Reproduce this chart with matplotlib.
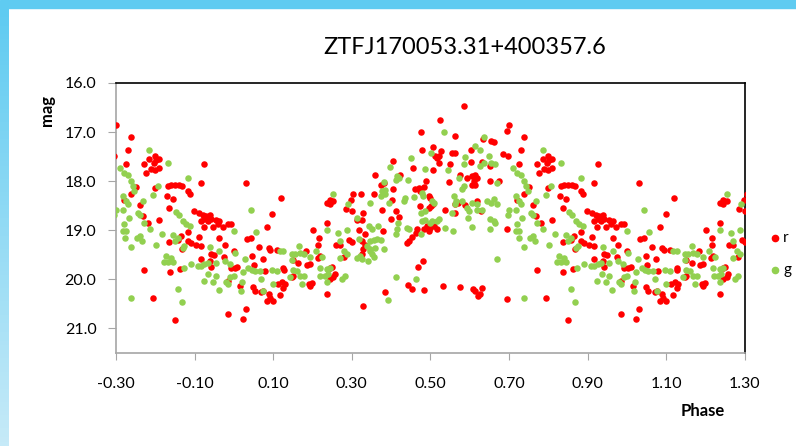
import matplotlib
matplotlib.use('Agg')
import matplotlib.pyplot as plt
import numpy as np
from matplotlib.patches import Rectangle
from matplotlib.lines import Line2D
from matplotlib.colors import LinearSegmentedColormap

plt.rcParams['font.family'] = ['Lato', 'DejaVu Sans']

title = 'ZTFJ170053.31+400357.6'
xticks = [-0.30, -0.10, 0.10, 0.30, 0.50, 0.70, 0.90, 1.10, 1.30]
yticks = [16.0, 17.0, 18.0, 19.0, 20.0, 21.0]
bands = ['r', 'g']
band_colors = ['#FF0000', '#92D050']

# (phase, mag) for one cycle, phase 0..1
r_obs = [
    (0.030, 18.03), (0.120, 18.35), (0.098, 18.66), (0.085, 18.93),
    (0.032, 19.18), (0.043, 19.16), (0.064, 19.34), (0.090, 19.37), (0.093, 19.40), (0.109, 19.40),
    (0.047, 19.53), (0.073, 19.59), (0.002, 19.76), (0.009, 19.74), (0.051, 19.70), (0.079, 19.83),
    (0.126, 19.76), (0.128, 19.80), (0.149, 19.60), (0.164, 19.66), (0.185, 19.70), (0.194, 19.69),
    (0.183, 19.42), (0.200, 19.00), (0.217, 19.16), (0.215, 19.29), (0.213, 19.57), (0.219, 19.52),
    (0.236, 18.85), (0.260, 19.29), (0.244, 19.76), (0.250, 19.75), (0.257, 19.89), (0.236, 18.44),
    (0.244, 18.47), (0.253, 18.41), (0.245, 18.39), (0.284, 18.56), (0.304, 18.27), (0.322, 18.27),
    (0.298, 18.39), (0.300, 18.61), (0.328, 18.64), (0.325, 18.80), (0.312, 18.80), (0.317, 19.00),
    (0.293, 19.20), (0.300, 19.23), (0.270, 19.29), (0.281, 19.54), (0.329, 19.39), (0.015, 20.13),
    (0.049, 20.16), (0.054, 20.23), (0.070, 20.26), (0.075, 20.23), (0.088, 20.30), (0.092, 20.38),
    (0.100, 20.44), (0.085, 20.44), (0.117, 20.32), (0.113, 20.10), (0.121, 20.06), (0.130, 20.10),
    (0.126, 20.17), (0.147, 19.96), (0.151, 19.93), (0.190, 20.10), (0.198, 20.08), (0.194, 20.13),
    (0.236, 20.30), (0.244, 20.00), (0.253, 19.96), (0.030, 20.60), (0.022, 20.80), (0.328, 20.54),
    (0.585, 16.47), (0.525, 16.75), (0.477, 16.99), (0.562, 17.07), (0.479, 17.36), (0.507, 17.31),
    (0.527, 17.38), (0.511, 17.48), (0.521, 17.49), (0.517, 17.53), (0.521, 17.63), (0.555, 17.43),
    (0.562, 17.43), (0.549, 17.64), (0.602, 17.36), (0.633, 17.14), (0.654, 17.19), (0.604, 17.60),
    (0.631, 17.60), (0.652, 17.70), (0.404, 17.58), (0.455, 17.74), (0.507, 17.78), (0.360, 17.87),
    (0.423, 17.87), (0.576, 17.88), (0.548, 18.01), (0.593, 17.93), (0.606, 17.90), (0.614, 17.87),
    (0.618, 17.93), (0.610, 18.00), (0.614, 18.08), (0.606, 18.07), (0.652, 18.00), (0.373, 18.07),
    (0.381, 18.04), (0.405, 18.16), (0.356, 18.27), (0.402, 18.39), (0.460, 18.15), (0.470, 18.14),
    (0.483, 18.12), (0.474, 18.20), (0.489, 17.99), (0.496, 18.30), (0.500, 18.34), (0.502, 18.50),
    (0.506, 18.47), (0.496, 18.54), (0.474, 18.50), (0.570, 18.44), (0.563, 18.46), (0.589, 18.49),
    (0.563, 18.64), (0.538, 18.59), (0.619, 18.40), (0.629, 18.60), (0.377, 18.59), (0.413, 18.61),
    (0.400, 18.78), (0.420, 18.73), (0.333, 19.07), (0.380, 19.02), (0.491, 18.91), (0.500, 18.95),
    (0.508, 18.91), (0.517, 18.98), (0.496, 19.01), (0.483, 18.98), (0.466, 18.98), (0.462, 19.05),
    (0.453, 19.14), (0.445, 19.22), (0.441, 19.25), (0.326, 19.22), (0.334, 19.29), (0.326, 19.49),
    (0.480, 19.62), (0.468, 19.75), (0.442, 20.12), (0.452, 20.20), (0.483, 20.22), (0.383, 20.25),
    (0.531, 20.13), (0.576, 20.15), (0.608, 20.20), (0.614, 20.23), (0.630, 20.17), (0.622, 20.33),
    (0.627, 20.30),
    (0.662, 17.21), (0.700, 16.85), (0.694, 16.97), (0.738, 17.11), (0.685, 17.45), (0.696, 17.49),
    (0.730, 17.37), (0.726, 17.65), (0.675, 17.99), (0.772, 17.66), (0.785, 17.54), (0.798, 17.49),
    (0.802, 17.56), (0.810, 17.54), (0.796, 17.63), (0.788, 17.76), (0.776, 17.83), (0.810, 17.73),
    (0.798, 17.78), (0.925, 17.66), (0.916, 18.03), (0.751, 18.12), (0.737, 18.27), (0.798, 18.13),
    (0.832, 18.10), (0.840, 18.08), (0.849, 18.07), (0.859, 18.08), (0.867, 18.10), (0.883, 18.20),
    (0.887, 18.27), (0.829, 18.30), (0.844, 18.37), (0.721, 18.39), (0.762, 18.49), (0.836, 18.55),
    (0.899, 18.61), (0.912, 18.64), (0.921, 18.68), (0.929, 18.71), (0.938, 18.69), (0.925, 18.78),
    (0.933, 18.81), (0.916, 18.81), (0.942, 18.78), (0.955, 18.80), (0.963, 18.81), (0.959, 18.88),
    (0.984, 18.88), (0.993, 18.87), (0.923, 18.93), (0.946, 18.93), (0.972, 18.93), (0.768, 18.71),
    (0.781, 18.85), (0.810, 18.80), (0.694, 18.97), (0.884, 19.03), (0.866, 19.12), (0.857, 19.20),
    (0.883, 19.22), (0.891, 19.25), (0.836, 19.24), (0.912, 19.14), (0.904, 19.29), (0.916, 19.32),
    (0.963, 19.15), (0.977, 19.30), (0.868, 19.39), (0.942, 19.49), (0.950, 19.50), (0.940, 19.62),
    (0.974, 19.54), (0.916, 19.59), (1.000, 19.42), (0.942, 19.74), (0.993, 19.76), (0.863, 19.78),
    (0.838, 19.84), (0.770, 19.81), (0.984, 20.03), (0.694, 20.39), (0.793, 20.37), (0.850, 20.83),
    (0.984, 20.71),
]

g_obs = [
    (0.043, 18.59), (0.055, 19.04), (0.003, 19.46), (0.028, 19.59), (0.037, 19.76), (0.045, 19.80),
    (0.054, 19.83), (0.066, 19.83), (0.024, 19.86), (0.020, 20.06), (0.018, 20.23), (0.070, 19.99),
    (0.075, 20.23), (0.096, 19.80), (0.109, 19.83), (0.100, 20.10), (0.117, 19.42), (0.126, 19.42),
    (0.147, 19.49), (0.155, 19.49), (0.166, 19.33), (0.168, 19.47), (0.177, 19.49), (0.147, 19.60),
    (0.151, 19.80), (0.160, 19.83), (0.168, 19.93), (0.178, 19.93), (0.143, 19.96), (0.172, 20.10),
    (0.194, 19.54), (0.209, 19.42), (0.219, 19.76), (0.223, 19.55), (0.220, 19.93), (0.232, 19.93),
    (0.240, 19.89), (0.236, 19.78), (0.244, 19.76), (0.236, 20.06), (0.253, 18.27), (0.236, 19.00),
    (0.264, 19.06), (0.270, 19.22), (0.280, 19.42), (0.287, 19.49), (0.270, 19.57), (0.274, 19.99),
    (0.283, 19.93), (0.291, 18.47), (0.312, 18.75), (0.312, 19.56), (0.321, 19.52), (0.287, 19.00),
    (0.317, 19.18), (0.327, 19.59),
    (0.534, 16.99), (0.636, 17.10), (0.612, 17.29), (0.627, 17.36), (0.648, 17.49), (0.502, 17.43),
    (0.451, 17.53), (0.398, 17.72), (0.589, 17.51), (0.585, 17.65), (0.627, 17.70), (0.636, 17.63),
    (0.653, 17.63), (0.664, 17.66), (0.485, 17.76), (0.545, 17.78), (0.443, 17.97), (0.411, 17.97),
    (0.420, 17.93), (0.381, 18.02), (0.415, 17.90), (0.572, 17.93), (0.579, 18.16), (0.585, 18.10),
    (0.377, 18.20), (0.385, 18.17), (0.375, 18.30), (0.384, 18.27), (0.347, 18.44), (0.394, 18.44),
    (0.436, 18.35), (0.432, 18.41), (0.457, 18.32), (0.479, 18.24), (0.481, 18.30), (0.504, 18.41),
    (0.508, 18.44), (0.477, 18.64), (0.487, 18.61), (0.521, 18.78), (0.517, 18.81), (0.479, 18.81),
    (0.487, 18.80), (0.500, 18.85), (0.504, 18.81), (0.559, 18.31), (0.562, 18.47), (0.565, 18.41),
    (0.580, 18.41), (0.606, 18.44), (0.619, 18.47), (0.555, 18.64), (0.593, 18.54), (0.597, 18.60),
    (0.619, 18.58), (0.631, 18.58), (0.644, 18.41), (0.653, 18.44), (0.661, 18.37), (0.596, 18.75),
    (0.606, 18.93), (0.651, 18.78), (0.661, 18.81), (0.665, 18.85), (0.651, 18.97), (0.536, 18.95),
    (0.557, 19.02), (0.440, 18.95), (0.445, 18.98), (0.418, 18.85), (0.415, 18.98), (0.411, 19.08),
    (0.343, 18.91), (0.351, 18.98), (0.366, 18.91), (0.347, 19.22), (0.356, 19.19), (0.364, 19.17),
    (0.373, 19.19), (0.339, 19.32), (0.347, 19.39), (0.360, 19.37), (0.351, 19.49), (0.356, 19.55),
    (0.345, 19.42), (0.381, 19.38), (0.341, 19.62), (0.477, 19.08), (0.413, 19.96), (0.464, 20.00),
    (0.392, 20.43), (0.670, 19.59),
    (0.785, 17.36), (0.832, 17.63), (0.669, 18.03), (0.711, 17.74), (0.720, 17.83), (0.730, 17.87),
    (0.737, 17.99), (0.743, 18.10), (0.747, 18.20), (0.882, 17.93), (0.806, 18.10), (0.670, 18.47),
    (0.717, 18.30), (0.726, 18.41), (0.730, 18.47), (0.768, 18.41), (0.793, 18.29), (0.700, 18.58),
    (0.717, 18.58), (0.696, 18.69), (0.755, 18.64), (0.761, 18.68), (0.732, 18.74), (0.853, 18.62),
    (0.859, 18.68), (0.870, 18.81), (0.878, 18.88), (0.887, 18.91), (0.721, 18.88), (0.726, 19.02),
    (0.717, 19.02), (0.770, 18.85), (0.787, 18.97), (0.754, 19.15), (0.760, 19.12), (0.765, 19.22),
    (0.737, 19.35), (0.724, 19.15), (0.817, 19.07), (0.844, 19.10), (0.849, 19.22), (0.857, 19.15),
    (0.874, 19.32), (0.870, 19.37), (0.802, 19.30), (0.827, 19.52), (0.840, 19.56), (0.823, 19.64),
    (0.832, 19.65), (0.844, 19.65), (0.940, 19.35), (0.963, 19.42), (0.925, 19.69), (0.908, 19.72),
    (0.916, 19.72), (0.933, 19.66), (0.955, 19.66), (0.976, 19.62), (0.989, 19.69), (0.872, 19.76),
    (0.891, 19.69), (0.935, 19.89), (0.955, 19.93), (0.923, 20.04), (0.946, 20.06), (0.980, 20.06),
    (0.984, 20.10), (0.961, 20.22), (0.991, 19.95), (1.001, 19.93), (0.999, 19.02), (0.738, 20.37),
    (0.857, 20.20), (0.868, 20.47),
]


def fold(obs):
    # repeat each cycle one phase earlier and later, keep what is inside the axis
    ph, mg = map(np.array, zip(*obs))
    ph_all = np.concatenate([ph - 1, ph, ph + 1])
    mg_all = np.tile(mg, 3)
    keep = (ph_all >= -0.305) & (ph_all <= 1.305)
    return ph_all[keep], mg_all[keep]


fig = plt.figure(figsize=(7.96, 4.46), dpi=100)
W, H = 796, 446

# blue frame of the slide
fig.patches.append(Rectangle((0, 1 - 8 / H), 1, 8 / H, transform=fig.transFigure,
                             color='#5FCBF1', zorder=0))
strip = fig.add_axes([0, 0, 9 / W, 1 - 8 / H])
cmap = LinearSegmentedColormap.from_list('edge', ['#5FCBF1', '#C6EAF8'])
strip.imshow(np.linspace(0, 1, 100).reshape(-1, 1), aspect='auto', cmap=cmap)
strip.axis('off')

ax = fig.add_axes([116 / W, 1 - 353 / H, (745 - 116) / W, (353 - 83) / H])

for obs, name, col in zip([r_obs, g_obs], bands, band_colors):
    x, y = fold(obs)
    ax.scatter(x, y, s=22, color=col, linewidths=0, label=name, zorder=3)

ax.set_xlim(-0.30, 1.30)
ax.set_ylim(21.5, 16.0)
ax.set_xticks(xticks)
ax.set_xticklabels(['%.2f' % t for t in xticks])
ax.set_yticks(yticks)
ax.set_yticklabels(['%.1f' % t for t in yticks])
ax.tick_params(axis='x', direction='out', length=5, color='#A6A6A6', pad=12, labelsize=11.5)
ax.tick_params(axis='y', direction='out', length=6, color='#A6A6A6', pad=8, labelsize=11.5)

for side in ['left', 'bottom']:
    ax.spines[side].set_color('#A6A6A6')
    ax.spines[side].set_linewidth(1.2)
for side in ['top', 'right']:
    ax.spines[side].set_color('black')
    ax.spines[side].set_linewidth(1.2)

fig.text(465 / W, 1 - 47 / H, title, ha='center', va='center', fontsize=17)
fig.text(47 / W, 1 - 110 / H, 'mag', rotation=90, ha='center', va='center',
         fontsize=12, fontweight='bold')
fig.text(703 / W, 1 - 411 / H, 'Phase', ha='center', va='center',
         fontsize=12, fontweight='bold')

# legend at the right edge
for i, (name, col) in enumerate(zip(bands, band_colors)):
    ypos = 1 - (238 + 32 * i) / H
    fig.add_artist(Line2D([775 / W], [ypos], transform=fig.transFigure, marker='o',
                          markersize=4.5, color=col, linestyle='none'))
    fig.text(783 / W, ypos, name, ha='left', va='center', fontsize=11)

fig.savefig('out.png', dpi=100)
